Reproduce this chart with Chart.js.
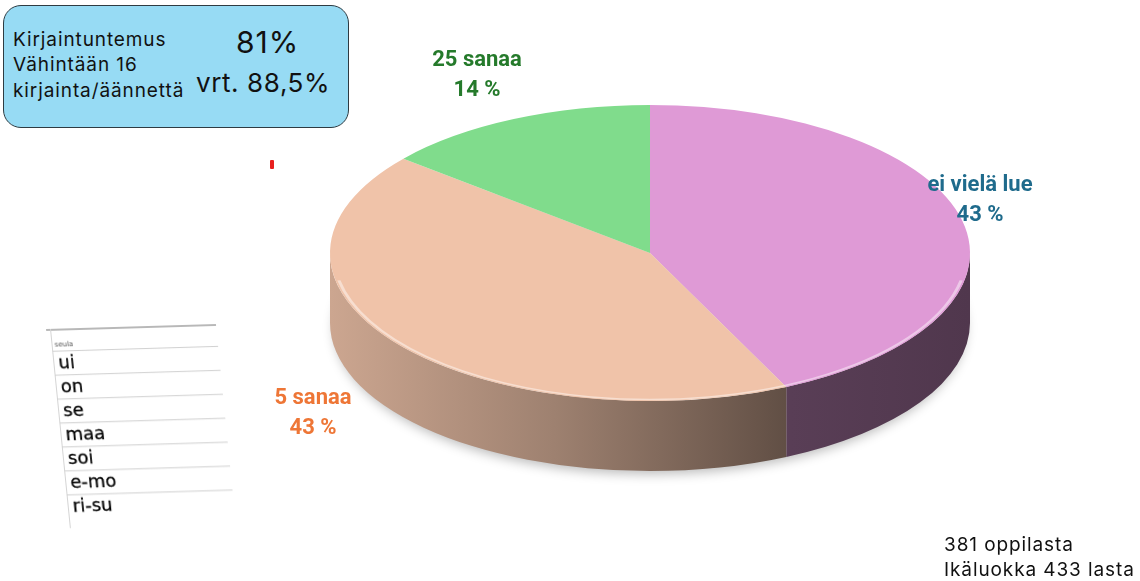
<!DOCTYPE html>
<html>
<head>
<meta charset="utf-8">
<script src="https://cdn.jsdelivr.net/npm/chart.js@4"></script>
<style>
  body { margin: 0; background: #fff; width: 1140px; height: 581px; overflow: hidden; position: relative; font-family: Inter, "Liberation Sans", sans-serif; }
  #chart { position: absolute; left: 0; top: 0; }
  .box { position: absolute; left: 3px; top: 5px; width: 346px; height: 123px; background: #97dbf4; border: 1.5px solid #2e3b42; border-radius: 18px; box-sizing: border-box; }
  .box .t { position: absolute; left: 9px; font-size: 19px; letter-spacing: 0.9px; color: #111; white-space: nowrap; }
  .box .big { position: absolute; font-size: 30px; letter-spacing: 1px; color: #111; white-space: nowrap; }
  .box .mid { position: absolute; font-size: 26px; letter-spacing: 0.6px; color: #111; white-space: nowrap; }
  .note { position: absolute; left: 944px; font-size: 19px; letter-spacing: 0.9px; color: #111; white-space: nowrap; }
  .redmark { position: absolute; left: 270px; top: 160px; width: 4px; height: 9px; border-radius: 1px; background: #e8201e; }
  .list { position: absolute; left: 46px; top: 329px; width: 170px; height: 200px; transform-origin: 0 0; transform: rotate(-1.7deg) skewX(4deg); overflow: hidden; }
  .list .top { position: absolute; left: 0; top: 0; width: 170px; height: 2px; background: #b8b8b8; }
  .list .vl { position: absolute; left: 4px; top: 0; width: 1px; height: 200px; background: #d4d4d4; }
  .list .hdr { position: absolute; left: 7px; top: 12px; font-size: 7px; color: #555; font-family: "DejaVu Sans", sans-serif; }
  .list .row { position: absolute; left: 4px; width: 166px; height: 24px; border-top: 1px solid #d0d0d0; font-family: "Comic Sans MS", "DejaVu Sans", sans-serif; font-size: 18px; font-weight: 500; -webkit-text-stroke: 0.3px #000; line-height: 21px; padding-left: 5px; color: #000; box-sizing: border-box; }
</style>
</head>
<body>
<canvas id="chart" width="1140" height="581"></canvas>

<div class="box">
  <div class="t" style="top:22px">Kirjaintuntemus</div>
  <div class="t" style="top:47px">Vähintään 16</div>
  <div class="t" style="top:73px">kirjainta/äännettä</div>
  <div class="big" style="left:232px; top:18px">81%</div>
  <div class="mid" style="left:192px; top:61px">vrt. 88,5%</div>
</div>

<div class="redmark"></div>

<div class="list" id="list">
  <div class="top"></div>
  <div class="vl"></div>
  <div class="hdr">seula</div>
</div>

<div class="note" style="top:533px">381 oppilasta</div>
<div class="note" style="top:558px">Ikäluokka 433 lasta</div>

<script>
// data
const labels = ['ei vielä lue', '5 sanaa', '25 sanaa'];
const values = [43, 43, 14];
const sliceColors = ['#df9ad6', '#f0c3a9', '#80dc8c'];
const labelColors = ['#1f6b8c', '#ee7636', '#257a2b'];
const wordList = ['ui', 'on', 'se', 'maa', 'soi', 'e-mo', 'ri-su'];

// word list "picture"
const list = document.getElementById('list');
wordList.forEach((w, i) => {
    const row = document.createElement('div');
    row.className = 'row';
    row.style.top = (22 + i * 24) + 'px';
    row.textContent = w;
    list.appendChild(row);
});

function shade(hex, k) {
    const n = parseInt(hex.slice(1), 16);
    const r = Math.round(((n >> 16) & 255) * k);
    const g = Math.round(((n >> 8) & 255) * k);
    const b = Math.round((n & 255) * k);
    return `rgb(${r},${g},${b})`;
}

// fake 3D: squash the pie into an ellipse and draw the side wall under it
const pie3d = {
    id: 'pie3d',
    beforeDatasetsDraw(chart, args, opts) {
        const {ctx} = chart;
        const arcs = chart.getDatasetMeta(0).data;
        const {x: cx, y: cy, outerRadius: r} = arcs[0];
        const d = opts.depth;
        ctx.save();
        ctx.translate(cx, cy);
        ctx.scale(opts.stretch, 1);
        ctx.translate(-cx, -cy);

        // soft shadow under the pie
        ctx.save();
        ctx.shadowColor = 'rgba(0,0,0,0.28)';
        ctx.shadowBlur = 12;
        ctx.shadowOffsetY = 5;
        ctx.beginPath();
        ctx.arc(cx, cy + d, r - 2, 0, Math.PI * 2);
        ctx.fillStyle = '#eee';
        ctx.fill();
        ctx.restore();

        // side wall, only the front half is visible
        arcs.forEach((arc, i) => {
            const color = chart.data.datasets[0].backgroundColor[i];
            const a0 = Math.max(arc.startAngle, 0);
            const a1 = Math.min(arc.endAngle, Math.PI);
            if (a1 <= a0) return;
            const g = ctx.createLinearGradient(cx - r, 0, cx + r, 0);
            opts.sideShade.forEach(([stop, k]) => g.addColorStop(stop, shade(color, k)));
            ctx.beginPath();
            ctx.arc(cx, cy, r, a0, a1);
            ctx.arc(cx, cy + d, r, a1, a0, true);
            ctx.closePath();
            ctx.fillStyle = g;
            ctx.fill();
        });
    },
    afterDatasetsDraw(chart, args, opts) {
        const {ctx} = chart;
        const arcs = chart.getDatasetMeta(0).data;
        const {x: cx, y: cy, outerRadius: r} = arcs[0];
        // light rim along the front edge
        ctx.beginPath();
        ctx.arc(cx, cy, r - 1.5, 0.06 * Math.PI, 0.94 * Math.PI);
        ctx.strokeStyle = 'rgba(255,255,255,0.45)';
        ctx.lineWidth = 1.5;
        ctx.stroke();
        ctx.restore();
    },
    afterDraw(chart, args, opts) {
        const {ctx} = chart;
        ctx.save();
        ctx.textAlign = 'center';
        ctx.textBaseline = 'middle';
        ctx.font = 'bold 22px Roboto';
        opts.labelAt.forEach(([x, y], i) => {
            ctx.fillStyle = labelColors[i];
            ctx.fillText(chart.data.labels[i], x, y);
            ctx.fillText(chart.data.datasets[0].data[i] + ' %', x, y + 30);
        });
        ctx.restore();
    }
};

new Chart(document.getElementById('chart'), {
    type: 'pie',
    data: {
        labels: labels,
        datasets: [{
            data: values,
            backgroundColor: sliceColors,
            borderWidth: 0,
            clip: false
        }]
    },
    options: {
        responsive: false,
        animation: false,
        events: [],
        layout: { padding: { left: 330, right: 170, top: 105, bottom: 180 } },
        plugins: {
            legend: { display: false },
            tooltip: { enabled: false },
            pie3d: {
                stretch: 320 / 148,
                depth: 70,
                sideShade: [[0, 0.85], [0.35, 0.66], [0.72, 0.40], [1, 0.36]],
                labelAt: [[980, 185], [313, 398], [477, 60]]
            }
        }
    },
    plugins: [pie3d]
});
</script>
</body>
</html>
